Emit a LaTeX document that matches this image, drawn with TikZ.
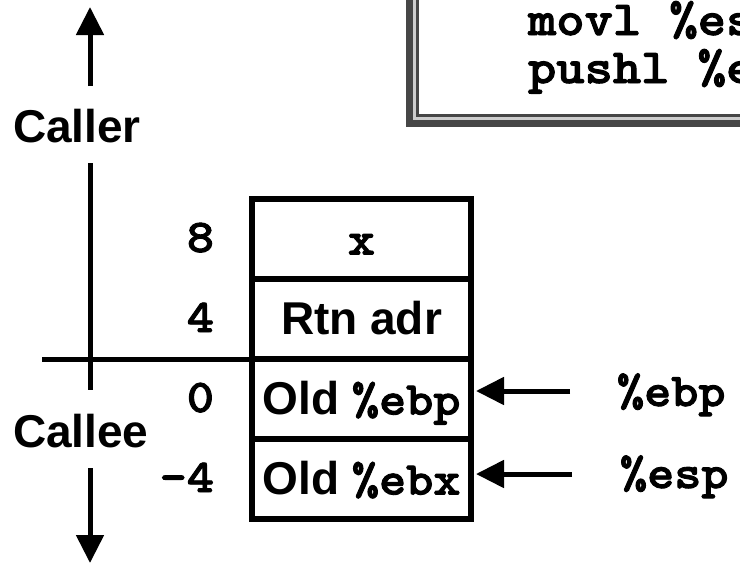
\documentclass[tikz,border=0pt]{standalone}
\usepackage{fontspec}
\setmainfont{Liberation Sans}
\newfontfamily\cour{Latin Modern Mono Light}[FakeStretch=1.1,FakeBold=2]
\usetikzlibrary{arrows.meta}
\definecolor{band}{RGB}{70,70,70}
\definecolor{gapc}{RGB}{205,205,205}
\tikzset{
 sans/.style={font=\fontsize{46}{50}\selectfont\bfseries, inner sep=0pt, outer sep=0pt},
 mono/.style={font=\fontsize{47}{50}\selectfont\cour\bfseries, inner sep=0pt, outer sep=0pt},
 code/.style={font=\fontsize{49}{50}\selectfont\cour\bfseries, inner sep=0pt, outer sep=0pt},
 cell/.style={draw, line width=5.5pt, minimum width=219pt, minimum height=80pt, inner sep=0pt, outer sep=0pt, text height=31pt, text depth=0pt, font=\fontsize{46}{50}\selectfont\bfseries},
 arr/.style={line width=5pt, -{Triangle[length=28pt,width=27pt]}},
 ln/.style={line width=5pt},
}
\begin{document}
\begin{tikzpicture}[x=1pt,y=-1pt]
\useasboundingbox (0,0) rectangle (740,565);
% top code box
\fill[band] (406,-20) rectangle (760,127);
\fill[gapc] (413,-20) rectangle (760,120);
\fill[band] (416,-20) rectangle (760,117);
\fill[white] (419,-20) rectangle (760,114);
\node[code, anchor=base west] (code1) at (528,35) {movl \%es};
\node[code, anchor=base west] (code2) at (528,83) {pushl \%e};
% caller / callee axis
\node[sans, anchor=base west] (caller) at (13,142) {Caller};
\node[sans, anchor=base west] (callee) at (13,447) {Callee};
\coordinate (upS) at (90,86);
\coordinate (upT) at (90,7);
\coordinate (vA) at (90,163);
\coordinate (vB) at (90,390);
\coordinate (dnS) at (90,468);
\coordinate (dnT) at (90,563);
\draw[arr] (upS) -- (upT);
\draw[ln] (vA) -- (vB);
\draw[arr] (dnS) -- (dnT);
% stack cells
\node[cell] (cx) at (361.5,239) {{\cour\fontsize{47}{50}\selectfont x}};
\node[cell] (crtn) at (361.5,319) {Rtn adr};
\node[cell] (cebp) at (361.5,399) {Old {\cour\fontsize{47}{50}\selectfont \%ebp}};
\node[cell] (cebx) at (361.5,479) {Old {\cour\fontsize{47}{50}\selectfont \%ebx}};
% offsets
\node[mono, anchor=base east] (l8) at (214,252) {8};
\node[mono, anchor=base east] (l4) at (214,332) {4};
\node[mono, anchor=base east] (l0) at (214,412) {0};
\node[mono, anchor=base east] (lm4) at (214,492) {-4};
% divider
\coordinate (hL) at (42,359);
\draw[ln] (hL) -- (crtn.south west);
% register pointers
\node[mono, anchor=base west] (ebpl) at (617,406) {\%ebp};
\node[mono, anchor=base west] (espl) at (620,488) {\%esp};
\coordinate (ebpS) at (570,391);
\coordinate (espS) at (572,474);
\draw[arr] (ebpS) -- ([xshift=5pt]cebp.east |- ebpS);
\draw[arr] (espS) -- ([xshift=5pt]cebx.east |- espS);
\end{tikzpicture}
\end{document}
